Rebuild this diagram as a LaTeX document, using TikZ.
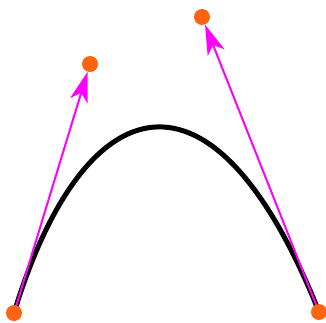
\documentclass[tikz,border=0pt]{standalone}
\usepackage{tikz}
\usetikzlibrary{
    arrows.meta,
    backgrounds
}
\definecolor{dotorange}{HTML}{FF6410}
\definecolor{handlemagenta}{HTML}{FF00FF}
\tikzset{
    ctrlpoint/.style={
        circle,
        fill=dotorange,
        inner sep=0pt,
        minimum size=16pt
    }
}
\tikzset{
    beziercurve/.style={
        draw=black,
        line width=5pt
    }
}
\tikzset{
    handle/.style={
        draw=handlemagenta,
        line width=2pt,
        -{Stealth[length=30pt,width=18pt,inset=8pt]}
    }
}

\begin{document}
\begin{tikzpicture}[
    x=1pt,
    y=-1pt
]

\useasboundingbox (0,0) rectangle (326,322);

% ------------------------------------------------------------
% End points and control points
% ------------------------------------------------------------

\node[ctrlpoint] (left) at (14,313) {};
\node[ctrlpoint] (right) at (319,312) {};
\node[ctrlpoint] (ctrlA) at (90,64) {};
\node[ctrlpoint] (ctrlB) at (202,17) {};

\coordinate (handleA) at (83,87);
\coordinate (handleB) at (212,44);

% ------------------------------------------------------------
% Curve and tangent handles
% ------------------------------------------------------------

\begin{scope}[on background layer]
    \draw[beziercurve]
        (left.center) .. controls (handleA) and (handleB) .. (right.center);

    \draw[handle] (left.center) -- (ctrlA);
    \draw[handle] (right.center) -- (ctrlB);
\end{scope}

\end{tikzpicture}
\end{document}
